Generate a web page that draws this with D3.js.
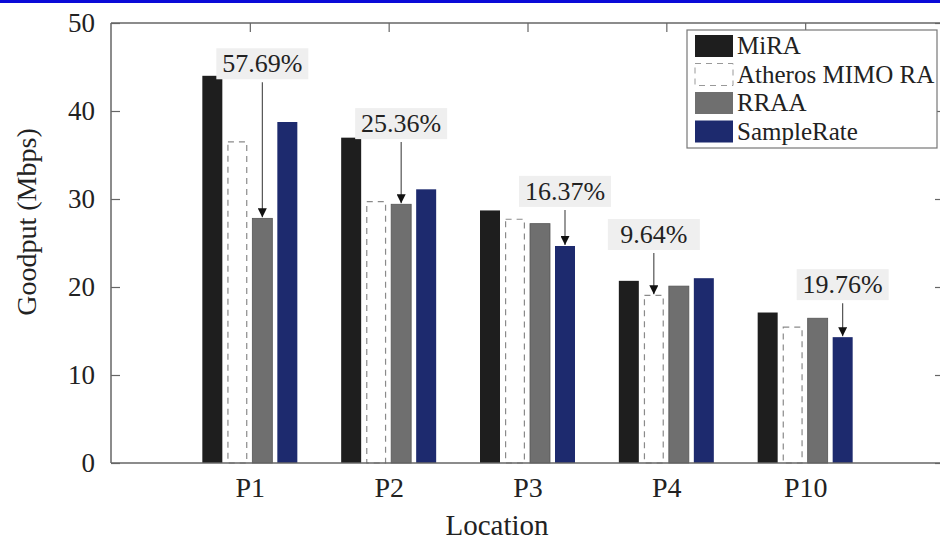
<!DOCTYPE html>
<html>
<head>
<meta charset="utf-8">
<script src="https://cdn.jsdelivr.net/npm/d3@7"></script>
<style>
body { margin: 0; background: #fff; }
text { font-family: "Liberation Serif", "Times New Roman", serif; fill: #222; }
</style>
</head>
<body>
<svg id="chart" width="940" height="542"></svg>
<script>
var locations = ['P1', 'P2', 'P3', 'P4', 'P10'];
var seriesNames = ['MiRA', 'Atheros MIMO RA', 'RRAA', 'SampleRate'];
var mira = [44.0, 36.97, 28.7, 20.7, 17.1];
var atheros = [36.5, 29.7, 27.7, 19.05, 15.45];
var rraa = [27.8, 29.4, 27.2, 20.1, 16.45];
var sampleRate = [38.75, 31.1, 24.66, 21.0, 14.3];
var yTicks = [0, 10, 20, 30, 40, 50];

// gain annotations: location, series pointed at, text, level of label (Mbps)
var noteLocation = ['P1', 'P2', 'P3', 'P4', 'P10'];
var noteSeries = ['RRAA', 'RRAA', 'SampleRate', 'Atheros MIMO RA', 'SampleRate'];
var noteText = ['57.69%', '25.36%', '16.37%', '9.64%', '19.76%'];
var noteLevel = [44.4, 37.6, 29.9, 25.0, 19.3];

var values = [mira, atheros, rraa, sampleRate];
var fills = ['#1e1e1e', '#ffffff', '#6f6f6f', '#1d2a6e'];

var svg = d3.select('#chart');
// plot box (window.top is taken, so prefixed names)
var pLeft = 111, pRight = 944, pTop = 23, pBottom = 463;

svg.append('rect').attr('x', 0).attr('y', 0).attr('width', 940).attr('height', 3).attr('fill', '#0b0bd8');

var x = d3.scalePoint().domain(locations).range([pLeft, pRight]).padding(1);
var xInner = d3.scaleBand().domain(seriesNames).range([-47.5, 47.5]).paddingInner(0.2).paddingOuter(0);
var y = d3.scaleLinear().domain([0, 50]).range([pBottom, pTop]);

function barX(loc, name) {
	return x(loc) + xInner(name);
}

// bars
for (var s = 0; s < seriesNames.length; s++) {
	var g = svg.append('g');
	var rects = g.selectAll('rect')
		.data(locations)
		.enter().append('rect')
		.attr('x', function (d) { return barX(d, seriesNames[s]); })
		.attr('y', function (d, i) { return y(values[s][i]); })
		.attr('width', xInner.bandwidth())
		.attr('height', function (d, i) { return y(0) - y(values[s][i]); })
		.attr('fill', fills[s]);
	if (s == 1) {
		rects.attr('stroke', '#8a8a8a').attr('stroke-width', 1.2).attr('stroke-dasharray', '6,5')
			.attr('x', function (d) { return barX(d, seriesNames[s]) + 0.6; })
			.attr('width', xInner.bandwidth() - 1.2);
	} else if (s == 2) {
		rects.attr('stroke', '#555').attr('stroke-width', 0.8);
	}
}

// axes box
var axisColor = '#666';
var yAxis = d3.axisLeft(y).tickValues(yTicks).tickSize(-9).tickPadding(16);
var gy = svg.append('g').attr('transform', 'translate(' + pLeft + ',0)').call(yAxis);
gy.selectAll('text').attr('font-size', 27).style('font-family', '"Liberation Serif", serif').attr('fill', '#222');
var yRight = d3.axisRight(y).tickValues(yTicks).tickSize(-9).tickFormat('');
var gyr = svg.append('g').attr('transform', 'translate(' + pRight + ',0)').call(yRight);

var xAxis = d3.axisBottom(x).tickSize(0).tickPadding(14);
var gx = svg.append('g').attr('transform', 'translate(0,' + pBottom + ')').call(xAxis);
gx.selectAll('text').attr('font-size', 28).style('font-family', '"Liberation Serif", serif').attr('fill', '#222');
var xTop = d3.axisTop(x).tickSize(-9).tickFormat('');
var gxt = svg.append('g').attr('transform', 'translate(0,' + pTop + ')').call(xTop);

[gy, gyr, gx, gxt].forEach(function (a) {
	a.select('.domain').attr('stroke', axisColor).attr('stroke-width', 1.5);
	a.selectAll('.tick line').attr('stroke', axisColor).attr('stroke-width', 1.2);
});
gy.select('.domain').attr('d', 'M0,' + pTop + 'V' + pBottom);
gyr.select('.domain').attr('d', 'M0,' + pTop + 'V' + pBottom);
gx.select('.domain').attr('d', 'M' + pLeft + ',0H' + pRight);
gxt.select('.domain').attr('d', 'M' + pLeft + ',0H' + pRight);

// axis titles
svg.append('text')
	.attr('transform', 'translate(36,222) rotate(-90)')
	.attr('text-anchor', 'middle')
	.attr('font-size', 28)
	.text('Goodput (Mbps)');
svg.append('text')
	.attr('x', 497).attr('y', 535)
	.attr('text-anchor', 'middle')
	.attr('font-size', 29)
	.text('Location');

// annotations
svg.append('defs').append('marker')
	.attr('id', 'head')
	.attr('viewBox', '0 0 10 10')
	.attr('refX', 10).attr('refY', 5)
	.attr('markerWidth', 9).attr('markerHeight', 9)
	.attr('markerUnits', 'userSpaceOnUse')
	.attr('orient', 'auto')
	.append('path').attr('d', 'M0,0 L10,5 L0,10 Z').attr('fill', '#111');

for (var n = 0; n < noteText.length; n++) {
	var si = seriesNames.indexOf(noteSeries[n]);
	var li = locations.indexOf(noteLocation[n]);
	var ax = barX(noteLocation[n], noteSeries[n]) + xInner.bandwidth() / 2;
	var base = y(noteLevel[n]);
	svg.append('rect')
		.attr('x', ax - 46).attr('y', base - 24)
		.attr('width', 92).attr('height', 31)
		.attr('fill', '#efefef');
	svg.append('text')
		.attr('x', ax).attr('y', base)
		.attr('text-anchor', 'middle')
		.attr('font-size', 26)
		.text(noteText[n]);
	svg.append('line')
		.attr('x1', ax).attr('x2', ax)
		.attr('y1', base + 10).attr('y2', y(values[si][li]) - 1)
		.attr('stroke', '#444').attr('stroke-width', 1.1)
		.attr('marker-end', 'url(#head)');
}

// legend
var lg = svg.append('g').attr('transform', 'translate(687,30)');
lg.append('rect').attr('width', 250).attr('height', 118)
	.attr('fill', '#fff').attr('stroke', '#777').attr('stroke-width', 1.2);
var items = lg.selectAll('g.item')
	.data(seriesNames)
	.enter().append('g')
	.attr('transform', function (d, i) { return 'translate(8,' + (5 + i * 28.5) + ')'; });
items.append('rect')
	.attr('width', 38).attr('height', 22)
	.attr('fill', function (d, i) { return fills[i]; })
	.attr('stroke', function (d, i) { return i == 1 ? '#999' : 'none'; })
	.attr('stroke-dasharray', function (d, i) { return i == 1 ? '6,5' : null; });
items.append('text')
	.attr('x', 42).attr('y', 19)
	.attr('font-size', 25)
	.text(function (d) { return d; });
</script>
</body>
</html>
